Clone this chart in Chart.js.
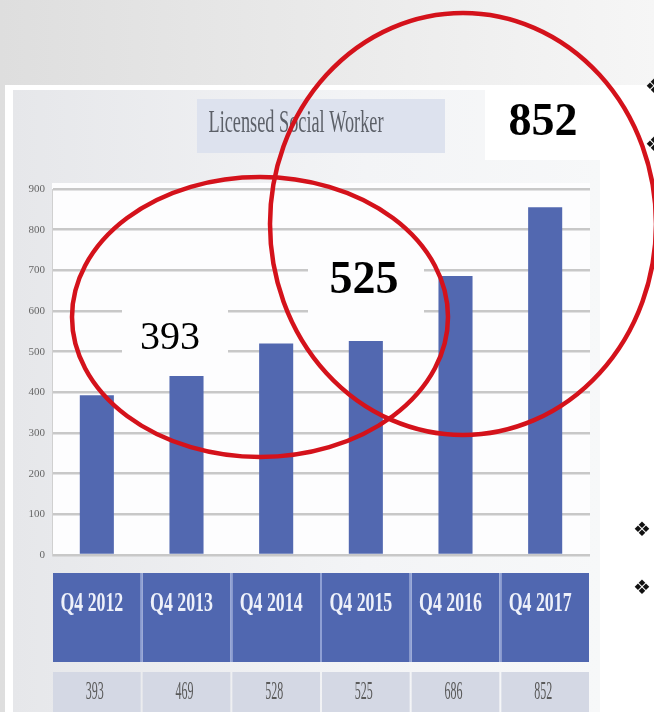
<!DOCTYPE html>
<html>
<head>
<meta charset="utf-8">
<script src="https://cdn.jsdelivr.net/npm/chart.js@4.4.0/dist/chart.umd.min.js"></script>
<style>
  html, body { margin: 0; padding: 0; background: #fff; overflow: hidden; }
  #wrap { position: relative; width: 654px; height: 712px; }
</style>
</head>
<body>
<div id="wrap"><canvas id="chart" width="654" height="712"></canvas></div>
<script>
// --- data ---
const categories = ['Q4 2012', 'Q4 2013', 'Q4 2014', 'Q4 2015', 'Q4 2016', 'Q4 2017'];
const barValues = [393, 440, 520, 526, 686, 855];          // bar heights as drawn
const tableValues = ['393', '469', '528', '525', '686', '852']; // data table row
const yMax = 900;
const yStep = 100;
const chartTitle = 'Licensed Social Worker';
const callout1 = '393';
const callout2 = '525';
const callout3 = '852';

const SERIF = '"Liberation Serif", "DejaVu Serif", serif';

// the slide squeezed the chart horizontally, so its text is narrow
function squished(ctx, text, x, y, font, sx) {
    ctx.save();
    ctx.font = font;
    ctx.translate(x, y);
    ctx.scale(sx, 1);
    ctx.fillText(text, 0, 0);
    ctx.restore();
}

// --- slide background, panel, title box ---
const backdrop = {
    id: 'backdrop',
    beforeDraw(chart) {
        const ctx = chart.ctx;
        const W = chart.width, H = chart.height;
        const a = chart.chartArea;
        ctx.save();
        const g = ctx.createLinearGradient(0, 0, W, 0);
        g.addColorStop(0, '#dedede');
        g.addColorStop(1, '#f6f6f6');
        ctx.fillStyle = g;
        ctx.fillRect(0, 0, W, H);
        ctx.fillStyle = '#ffffff';
        ctx.fillRect(5, 85, W - 5, H - 85);
        // chart object area
        const g2 = ctx.createLinearGradient(13, 0, 600, 0);
        g2.addColorStop(0, '#e6e7ea');
        g2.addColorStop(0.6, '#f3f4f6');
        g2.addColorStop(1, '#f7f8f9');
        ctx.fillStyle = g2;
        ctx.fillRect(13, 90, 587, H - 90);
        ctx.fillStyle = '#ffffff';
        ctx.fillRect(485, 90, 115, 70);
        // plot area
        ctx.fillStyle = '#fdfdfe';
        ctx.fillRect(a.left, a.top - 6, a.right - a.left, a.bottom - a.top + 6);
        // title box
        ctx.fillStyle = '#dde2ee';
        ctx.fillRect(197, 99, 248, 54);
        ctx.fillStyle = '#5c6068';
        ctx.textAlign = 'center';
        ctx.textBaseline = 'middle';
        ctx.font = '32px ' + SERIF;
        const sx = 175 / ctx.measureText(chartTitle).width;
        squished(ctx, chartTitle, 296, 124, ctx.font, sx);
        ctx.restore();
    }
};

// --- data table under the bars, callouts and red circles ---
const overlay = {
    id: 'overlay',
    afterDraw(chart) {
        const ctx = chart.ctx;
        const xs = chart.scales.x;
        const half = (xs.right - xs.left) / categories.length / 2;
        ctx.save();
        ctx.textAlign = 'center';
        ctx.textBaseline = 'middle';
        categories.forEach((c, i) => {
            const cx = xs.getPixelForValue(i);
            ctx.fillStyle = '#5067b0';
            ctx.fillRect(cx - half + 1, 573, half * 2 - 2, 89);
            ctx.fillStyle = '#d4d8e4';
            ctx.fillRect(cx - half + 1, 672, half * 2 - 2, 40);
            ctx.fillStyle = '#eef1fa';
            squished(ctx, c, cx - 5, 604, 'bold 27px ' + SERIF, 0.66);
            ctx.fillStyle = '#5a5a5a';
            squished(ctx, tableValues[i], cx - 2, 692, '25px ' + SERIF, 0.48);
        });
        ctx.strokeStyle = '#8fa0d4';
        ctx.lineWidth = 2;
        for (let i = 1; i < categories.length; i++) {
            const x = xs.left + half * 2 * i;
            ctx.beginPath();
            ctx.moveTo(x, 573);
            ctx.lineTo(x, 662);
            ctx.stroke();
        }

        // label boxes behind the callouts (they hide the gridlines)
        ctx.fillStyle = '#fdfdfe';
        ctx.fillRect(122, 285, 106, 85);
        ctx.fillRect(308, 240, 116, 95);

        ctx.fillStyle = '#000';
        ctx.font = '40px ' + SERIF;
        ctx.fillText(callout1, 170, 338);
        ctx.font = 'bold 46px ' + SERIF;
        ctx.fillText(callout2, 364, 281);
        ctx.fillText(callout3, 543, 123);

        // hand-drawn red circles
        ctx.strokeStyle = '#d4121b';
        ctx.lineWidth = 4.5;
        ctx.beginPath();
        ctx.ellipse(260, 317, 188, 140, 0, 0, Math.PI * 2);
        ctx.stroke();
        ctx.beginPath();
        ctx.ellipse(463, 224, 193, 211, 0, 0, Math.PI * 2);
        ctx.stroke();

        // slide bullets at right edge
        ctx.fillStyle = '#111';
        ctx.font = '20px "DejaVu Sans", sans-serif';
        ctx.fillText('\u2756', 654, 88);
        ctx.fillText('\u2756', 654, 146);
        ctx.fillText('\u2756', 642, 531);
        ctx.fillText('\u2756', 642, 589);
        ctx.restore();
    }
};

new Chart(document.getElementById('chart'), {
    type: 'bar',
    data: {
        labels: categories,
        datasets: [{
            label: chartTitle,
            data: barValues,
            backgroundColor: '#5268b0',
            borderWidth: 0,
            barPercentage: 0.38,
            categoryPercentage: 1
        }]
    },
    options: {
        responsive: false,
        animation: false,
        devicePixelRatio: 1,
        layout: { padding: { left: 12, right: 64, top: 189, bottom: 157 } },
        plugins: {
            legend: { display: false },
            title: { display: false },
            tooltip: { enabled: false }
        },
        scales: {
            x: { display: false },
            y: {
                min: 0,
                max: yMax,
                afterFit: (axis) => { axis.width = 40; },
                ticks: {
                    stepSize: yStep,
                    padding: 7,
                    color: '#666',
                    font: { family: SERIF, size: 11 }
                },
                grid: { color: '#c8c8c8', lineWidth: 2.5, drawTicks: false },
                border: { display: true, color: '#d0d0d0', width: 1 }
            }
        }
    },
    plugins: [backdrop, overlay]
});
</script>
</body>
</html>
